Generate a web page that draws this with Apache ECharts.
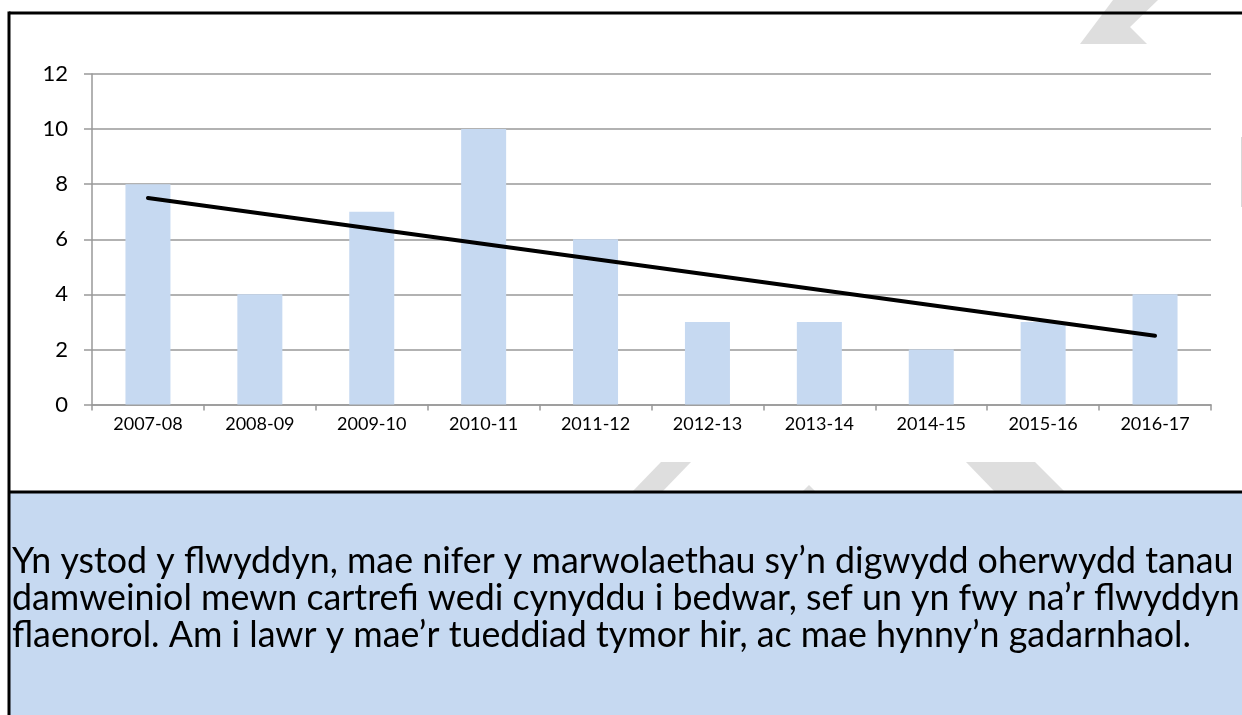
<!DOCTYPE html>
<html>
<head>
<meta charset="utf-8">
<script src="https://cdn.jsdelivr.net/npm/echarts@6/dist/echarts.min.js"></script>
<style>
html,body{margin:0;padding:0;background:#fff;}
#chart{width:1242px;height:715px;}
</style>
</head>
<body>
<div id="chart"></div>
<script>
const categories = ['2007-08','2008-09','2009-10','2010-11','2011-12','2012-13','2013-14','2014-15','2015-16','2016-17'];
const deaths = [8, 4, 7, 10, 6, 3, 3, 2, 3, 4];
const trendEnds = [7.5, 2.5];
const yTicks = {min: 0, max: 12, interval: 2};
const bodyLines = [
  'Yn ystod y flwyddyn, mae nifer y marwolaethau sy\u2019n digwydd oherwydd tanau',
  'damweiniol mewn cartrefi wedi cynyddu i bedwar, sef un yn fwy na\u2019r flwyddyn',
  'flaenorol. Am i lawr y mae\u2019r tueddiad tymor hir, ac mae hynny\u2019n gadarnhaol.'
];

const FONT = 'Lato, "Open Sans", sans-serif';
const chart = echarts.init(document.getElementById('chart'), null, {renderer: 'canvas'});
const wmColor = '#dedede';

const graphic = [
  // watermark shapes
  {type:'polygon', z:-10, shape:{points:[[1113,0],[1158,0],[1130,27],[1147,44],[1080,44]]}, style:{fill:wmColor}},
  {type:'polygon', z:-10, shape:{points:[[661,462],[691,462],[662,492],[632,492]]}, style:{fill:wmColor}},
  {type:'polygon', z:-10, shape:{points:[[809,485],[816,492],[802,492]]}, style:{fill:wmColor}},
  {type:'polygon', z:-10, shape:{points:[[966,462],[1035,462],[1065,492],[995,492]]}, style:{fill:wmColor}},
  {type:'line', z:-10, shape:{x1:1241.5,y1:137,x2:1241.5,y2:207}, style:{stroke:'#d8d8d8', lineWidth:1}},
  // blue text box
  {type:'rect', z:1, shape:{x:10,y:493,width:1240,height:230}, style:{fill:'#c6d9f1'}},
  // borders
  {type:'line', z:2, shape:{x1:9,y1:13,x2:1250,y2:13}, style:{stroke:'#000', lineWidth:3}},
  {type:'line', z:2, shape:{x1:9,y1:11.5,x2:9,y2:715}, style:{stroke:'#000', lineWidth:3}},
  {type:'line', z:2, shape:{x1:9,y1:492,x2:1250,y2:492}, style:{stroke:'#000', lineWidth:3}}
];
bodyLines.forEach((t, i) => {
  graphic.push({type:'text', z:3, left:12, top:543 + i*37,
    style:{text:t, fill:'#000', font:'35.8px ' + FONT}});
});

chart.setOption({
  animation: false,
  backgroundColor: '#fff',
  grid: {left: 92, right: 31, top: 74, bottom: 310.5},
  xAxis: {
    type: 'category',
    data: categories,
    axisLine: {lineStyle: {color: '#999', width: 1.5}},
    axisTick: {show: true, length: 6, alignWithLabel: false, lineStyle: {color: '#999', width: 1.5}},
    axisLabel: {color: '#000', fontSize: 18, fontFamily: FONT, margin: 11, interval: 0},
    splitLine: {show: false}
  },
  yAxis: {
    type: 'value',
    min: yTicks.min, max: yTicks.max, interval: yTicks.interval,
    axisLine: {show: true, lineStyle: {color: '#999', width: 1.5}},
    axisTick: {show: true, length: 8, lineStyle: {color: '#999', width: 1.5}},
    axisLabel: {color: '#000', fontSize: 22, fontFamily: FONT, margin: 24},
    splitLine: {lineStyle: {color: '#999', width: 1.5}}
  },
  series: [
    {
      type: 'bar',
      data: deaths,
      barWidth: 45,
      itemStyle: {color: '#c6d9f1'},
      z: 2
    },
    {
      type: 'line',
      data: [[0, trendEnds[0]], [categories.length - 1, trendEnds[1]]],
      symbol: 'none',
      lineStyle: {color: '#000', width: 4, cap: 'round'},
      z: 3
    }
  ],
  graphic: graphic
});
</script>
</body>
</html>
